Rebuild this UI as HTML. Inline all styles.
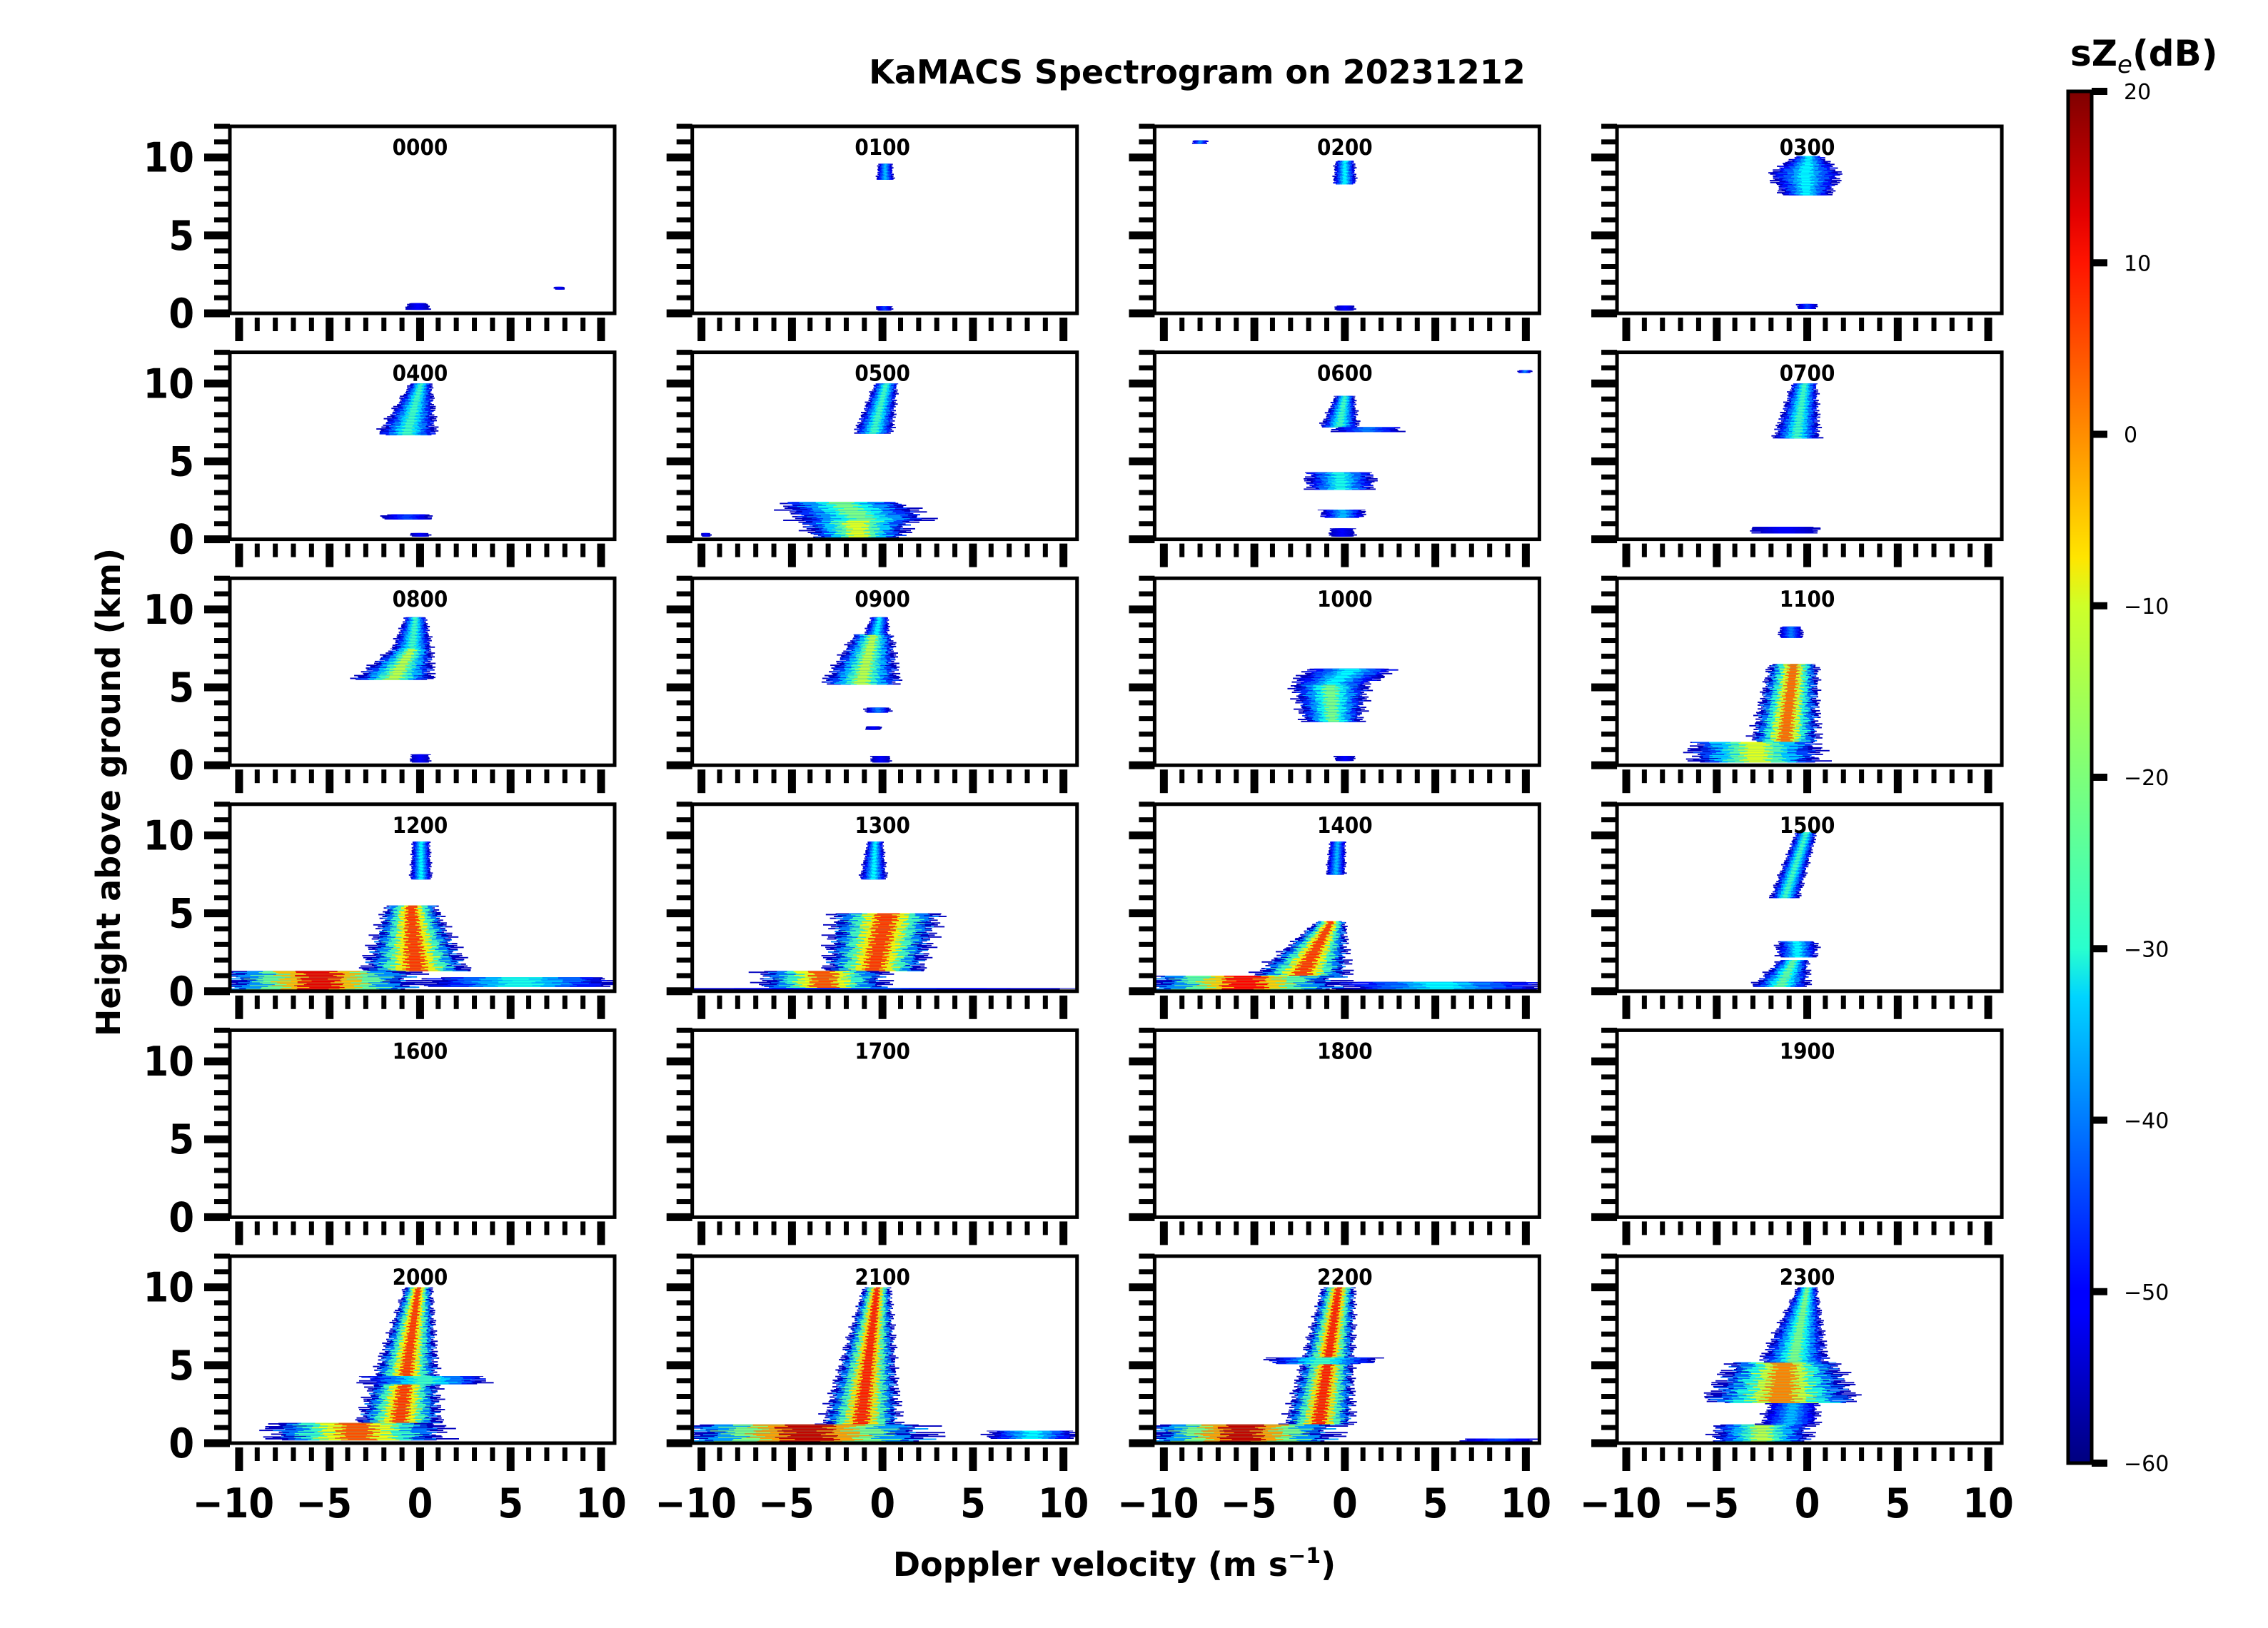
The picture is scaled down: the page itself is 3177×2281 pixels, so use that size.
<!DOCTYPE html>
<html><head><meta charset="utf-8">
<style>
html,body{margin:0;padding:0;background:#fff;}
svg{display:block;}
text{font-family:"DejaVu Sans","Liberation Sans",sans-serif;}
.cond{font-family:"DejaVu Sans Condensed","DejaVu Sans","Liberation Sans",sans-serif;font-weight:bold;}
</style></head>
<body>
<svg id="fig" width="3177" height="2281" viewBox="0 0 3177 2281" xmlns="http://www.w3.org/2000/svg">
<defs>
<linearGradient id="jetgrad" x1="0" y1="1" x2="0" y2="0">
<stop offset="0" stop-color="#00007f"/><stop offset="0.11" stop-color="#0000ff"/>
<stop offset="0.125" stop-color="#0000ff"/><stop offset="0.34" stop-color="#00d4ff"/>
<stop offset="0.375" stop-color="#29ffce"/><stop offset="0.5" stop-color="#7dff7a"/>
<stop offset="0.625" stop-color="#ceff29"/><stop offset="0.66" stop-color="#ffe500"/>
<stop offset="0.875" stop-color="#ff1400"/><stop offset="0.91" stop-color="#e30000"/>
<stop offset="1" stop-color="#7f0000"/>
</linearGradient>
</defs>
<text x="1677" y="117" text-anchor="middle" font-weight="bold" font-size="46">KaMACS Spectrogram on 20231212</text>
<text transform="translate(168,1110) rotate(-90)" text-anchor="middle" font-weight="bold" font-size="46">Height above ground (km)</text>
<text x="1561" y="2208" text-anchor="middle" font-weight="bold" font-size="46">Doppler velocity (m s<tspan dy="-18" font-size="30">−1</tspan><tspan dy="18">)</tspan></text>
<g id="panels"></g>
<g id="cbar"></g>
</svg>
<script>
// Panel titles (UTC hour)
const times = ["0000","0100","0200","0300","0400","0500","0600","0700","0800","0900","1000","1100","1200","1300","1400","1500","1600","1700","1800","1900","2000","2100","2200","2300"];
// Echo layers per panel: [hBottom, hTop, vLeftBottom, vRightBottom, vLeftTop, vRightTop, peak dB]
const blobs = [
 [[0.25,0.65,-0.8,0.5,-0.6,0.4,-50],[1.55,1.7,7.4,8.0,7.4,8.0,-50]],
 [[8.6,9.6,-0.3,0.6,-0.2,0.5,-35],[0.2,0.45,-0.3,0.5,-0.3,0.5,-45]],
 [[8.3,9.8,-0.6,0.6,-0.5,0.5,-30],[0.2,0.5,-0.5,0.5,-0.5,0.5,-50],[10.9,11.1,-8.4,-7.6,-8.4,-7.6,-40]],
 [[7.6,9.0,-1.3,1.2,-2.0,1.8,-30],[9.0,10.1,-2.0,1.8,-0.6,0.8,-30],[0.3,0.6,-0.5,0.5,-0.5,0.5,-45]],
 [[6.7,10.0,-2.3,0.8,-0.5,0.6,-25],[1.3,1.6,-2.0,0.5,-2.0,0.5,-45],[0.2,0.4,-0.5,0.5,-0.5,0.5,-50]],
 [[6.8,10.0,-1.5,0.5,-0.4,0.8,-25],[0.0,1.2,-3.5,1.0,-4.5,1.5,-12],[1.2,2.4,-4.5,2.5,-5.5,1.0,-20],[0.2,0.4,-10.0,-9.5,-10.0,-9.5,-50]],
 [[7.2,9.2,-1.3,0.7,-0.5,0.5,-25],[6.9,7.2,-0.6,3.0,-0.6,3.0,-40],[3.2,4.3,-2.0,1.5,-2.0,1.5,-28],[1.4,1.9,-1.2,1.0,-1.2,1.0,-35],[0.2,0.7,-0.8,0.5,-0.8,0.5,-50],[10.7,10.85,9.6,10.3,9.6,10.3,-40]],
 [[6.5,10.0,-1.8,0.6,-0.8,0.5,-25],[0.4,0.8,-3.0,0.5,-3.0,0.5,-50]],
 [[5.5,7.5,-3.6,0.6,-1.5,0.6,-15],[7.5,9.5,-1.5,0.6,-0.8,0.3,-25],[0.2,0.7,-0.5,0.5,-0.5,0.5,-50]],
 [[5.2,8.4,-3.2,0.8,-1.5,0.5,-15],[8.4,9.5,-1.0,0.3,-0.6,0.3,-30],[3.4,3.7,-0.9,0.4,-0.9,0.4,-40],[2.3,2.5,-0.9,-0.1,-0.9,-0.1,-50],[0.2,0.6,-0.6,0.4,-0.6,0.4,-50]],
 [[2.8,5.2,-2.2,0.8,-2.8,1.2,-20],[5.2,6.2,-2.8,1.2,-2.0,2.8,-30],[0.3,0.6,-0.5,0.5,-0.5,0.5,-50]],
 [[1.5,6.5,-3.0,0.5,-2.0,0.5,2],[8.2,8.9,-1.5,-0.3,-1.5,-0.3,-40],[0.2,1.5,-6.2,0.5,-6.2,0.5,-12]],
 [[1.3,5.5,-3.0,2.5,-1.8,0.8,6],[7.2,9.6,-0.5,0.6,-0.4,0.5,-30],[0.0,1.3,-10.6,-0.5,-10.6,-0.5,12],[0.3,0.9,0.5,10.6,0.5,10.6,-28]],
 [[1.3,5.0,-3.0,2.0,-2.5,3.0,6],[7.2,9.6,-1.2,0.2,-0.8,0.0,-30],[0.0,1.3,-6.5,0.0,-6.5,0.0,4],[0.0,0.2,-10.5,10.5,-10.5,10.5,-45]],
 [[0.9,4.5,-5.0,0.0,-1.5,0.0,6],[7.5,9.6,-1.0,0.0,-0.8,0.0,-35],[0.0,1.0,-10.6,-0.5,-10.6,-0.5,10],[0.1,0.6,0.0,10.6,0.0,10.6,-30]],
 [[6.0,10.2,-2.0,-0.5,-0.6,0.5,-25],[2.2,3.2,-1.6,0.5,-1.6,0.5,-30],[0.3,2.0,-3.0,0.0,-1.5,0.0,-22]],
 [],[],[],[],
 [[1.3,10.0,-3.3,1.0,-0.8,0.6,6],[0.2,1.3,-8.0,1.0,-8.0,1.0,4],[3.8,4.3,-3.0,3.5,-3.0,3.5,-25]],
 [[1.2,10.0,-3.2,0.8,-1.0,0.4,8],[0.0,1.2,-10.6,2.5,-10.6,2.0,15],[0.3,0.8,6.0,10.6,6.0,10.6,-30]],
 [[1.2,10.0,-3.2,0.3,-1.2,0.5,8],[0.0,1.2,-10.6,-0.8,-10.6,-0.8,15],[5.1,5.5,-4.0,1.5,-4.0,1.5,-25],[0.0,0.3,6.5,10.5,6.5,10.5,-45]],
 [[0.0,1.2,-5.0,0.0,-5.0,0.0,-15],[1.2,2.6,-2.5,0.5,-2.0,0.5,-35],[2.6,5.2,-5.5,2.5,-4.0,1.5,0],[5.2,10.0,-2.5,1.0,-0.5,0.5,-20]]
];
const xTicksMajor = [-10,-5,0,5,10];
const yTicksMajor = [0,5,10];
const cbarTicks = [20,10,0,-10,-20,-30,-40,-50,-60];

const NS="http://www.w3.org/2000/svg";
function mk(tag, attrs, parent){const e=document.createElementNS(NS,tag);for(const k in attrs)e.setAttribute(k,attrs[k]);parent.appendChild(e);return e;}

const PW=539, PH=262, X0=322, DX=647.7, Y0=177, DY=316.6;
const XMIN=-10.51, XMAX=10.75, YMIN=0, YMAX=12;
const DBMIN=-60, DBMAX=20;

function jet(v){
  let t=(v-DBMIN)/(DBMAX-DBMIN); t=Math.max(0,Math.min(1,t));
  const f=(a)=>Math.max(0,Math.min(1,1.5-Math.abs(4*t-a)));
  return "rgb("+Math.round(f(3)*255)+","+Math.round(f(2)*255)+","+Math.round(f(1)*255)+")";
}
// deterministic edge texture (visual raggedness only)
function rag(h,k){return 1+0.12*Math.sin(h*47.3+k)+0.08*Math.sin(h*113.7+2*k);}

const panelsG=document.getElementById('panels');
const fracs=[1,0.85,0.66,0.42,0.2];
times.forEach((t,i)=>{
  const col=i%4, row=Math.floor(i/4);
  const px=X0+col*DX, py=Y0+row*DY;
  const xs=v=>px+(v-XMIN)/(XMAX-XMIN)*PW;
  const ys=h=>py+PH-(h-YMIN)/(YMAX-YMIN)*PH;
  const g=mk('g',{},panelsG);
  
  
  const clip=mk('clipPath',{id:'clip'+i},g);
  mk('rect',{x:px,y:py,width:PW,height:PH},clip);
  const dataG=mk('g',{'clip-path':'url(#clip'+i+')'},g);
  
  
  blobs[i].forEach(b=>{
    const [h0,h1,l0,r0,l1,r1,pk]=b;
    const step=0.06;
    for(let h=h0; h<h1-1e-6; h+=step){
      const hh=Math.min(h+step,h1);
      const f=(h+hh)/2; const u=(h1>h0)?(f-h0)/(h1-h0):0;
      const L=l0+(l1-l0)*u, R=r0+(r1-r0)*u;
      const c=(L+R)/2, w=(R-L)/2;
      const shift=0.08*w*Math.sin(f*29.1);
      for(let k=0;k<5;k++){
        const frac=fracs[k]*rag(f,k);
        const db=-55+(pk+55)*k/4;
        const x1=xs(c+shift-w*frac), x2=xs(c+shift+w*frac);
        const rct=mk('rect',{x:x1.toFixed(1),y:ys(hh).toFixed(1),width:Math.max(1,x2-x1).toFixed(1),height:(ys(h)-ys(hh)+0.6).toFixed(1),fill:jet(db)},dataG);
        
        
      }
    }
  });
  const fr=mk('rect',{x:px,y:py,width:PW,height:PH,fill:'none',stroke:'#000','stroke-width':5},g);
  
  
  const tl=mk('text',{x:xs(0),y:py+40,'text-anchor':'middle','font-size':31,class:'cond'},g);
  tl.textContent=t;
  
  
  for(let h=0;h<=12;h++){
    const maj=yTicksMajor.includes(h);
    const tk=mk('rect',{x:px-(maj?36:22),y:ys(h)-(maj?5.5:3.5),width:(maj?36:22),height:(maj?11:7),fill:'#000'},g);
    
    
  }
  if(col===0){
    yTicksMajor.forEach(h=>{
      const lb=mk('text',{x:px-50,y:ys(h)+20,'text-anchor':'end','font-size':57,class:'cond'},g);
      lb.textContent=h;
      
      
    });
  }
  for(let v=-10;v<=10;v++){
    const maj=xTicksMajor.includes(v);
    const tk=mk('rect',{x:xs(v)-(maj?5.5:3.5),y:py+PH+6,width:(maj?11:7),height:(maj?33:19),fill:'#000'},g);
    
    
  }
  if(row===5){
    xTicksMajor.forEach(v=>{
      const lb=mk('text',{x:xs(v)-(v<0?8:0),y:py+PH+104,'text-anchor':'middle','font-size':57,class:'cond'},g);
      lb.textContent=(v<0?'\u2212'+(-v):''+v);
      
      
    });
  }
});

const cb=document.getElementById('cbar');
const CBX=2897, CBW=33, CBT=128, CBB=2050;
const cys=d=>CBB-(d-DBMIN)/(DBMAX-DBMIN)*(CBB-CBT);
const cr=mk('rect',{x:CBX,y:CBT,width:CBW,height:CBB-CBT,fill:'url(#jetgrad)',stroke:'#000','stroke-width':5},cb);


cbarTicks.forEach(d=>{
  const tk=mk('rect',{x:CBX+CBW,y:cys(d)-5,width:22,height:10,fill:'#000'},cb);
  
  
  const lb=mk('text',{x:CBX+CBW+45,y:cys(d)+11,'font-size':30},cb);
  lb.textContent=(d<0?'\u2212'+(-d):''+d);
  
  
});
const cl=mk('text',{x:2900,y:92,'font-size':50,'font-weight':'bold'},cb);
cl.innerHTML='sZ<tspan font-size="34" font-weight="normal" font-style="italic" dy="10">e</tspan><tspan dy="-10">(dB)</tspan>';


</script>
</body></html>
